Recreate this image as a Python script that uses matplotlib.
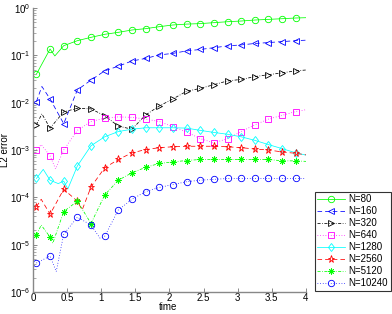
import numpy as np
import matplotlib
matplotlib.use('Agg')
import matplotlib.pyplot as plt
from matplotlib.ticker import FixedLocator, LogLocator, NullFormatter

plt.rcParams['font.family'] = ['Liberation Sans', 'DejaVu Sans']
plt.rcParams['mathtext.fontset'] = 'custom'
plt.rcParams['mathtext.rm'] = 'Liberation Sans'
plt.rcParams['mathtext.default'] = 'regular'

# times at which markers are drawn
marker_t = [0.05, 0.25, 0.45, 0.65, 0.85, 1.05, 1.25, 1.45, 1.65, 1.85,
            2.05, 2.25, 2.45, 2.65, 2.85, 3.05, 3.25, 3.45, 3.65, 3.85]

labels = ['N=80', 'N=160', 'N=320', 'N=640', 'N=1280', 'N=2560', 'N=5120', 'N=10240']

t80 = [0.05, 0.25, 0.32, 0.45, 0.65, 0.85, 1.05, 1.25, 1.45, 1.65, 1.85,
       2.05, 2.25, 2.45, 2.65, 2.85, 3.05, 3.25, 3.45, 3.65, 3.85, 4.0]
e80 = [4.0e-2, 1.36e-1, 9.7e-2, 1.60e-1, 2.04e-1, 2.40e-1, 2.78e-1, 3.06e-1, 3.43e-1, 3.66e-1, 4.03e-1,
       4.38e-1, 4.57e-1, 4.68e-1, 4.90e-1, 5.13e-1, 5.31e-1, 5.57e-1, 5.75e-1, 5.94e-1, 6.15e-1, 6.24e-1]

t160 = [0.05, 0.13, 0.25, 0.45, 0.65, 0.85, 1.05, 1.25, 1.45, 1.65, 1.85,
        2.05, 2.25, 2.45, 2.65, 2.85, 3.05, 3.25, 3.45, 3.65, 3.85, 4.0]
e160 = [1.05e-2, 2.2e-2, 1.2e-2, 3.6e-3, 1.86e-2, 3.0e-2, 4.7e-2, 5.9e-2, 7.6e-2, 8.6e-2, 1.02e-1,
        1.10e-1, 1.24e-1, 1.33e-1, 1.45e-1, 1.58e-1, 1.66e-1, 1.78e-1, 1.86e-1, 1.95e-1, 2.04e-1, 2.09e-1]

t320 = [0.05, 0.13, 0.25, 0.45, 0.65, 0.85, 1.05, 1.25, 1.45, 1.65, 1.85,
        2.05, 2.25, 2.45, 2.65, 2.85, 3.05, 3.25, 3.45, 3.65, 3.85, 4.0]
e320 = [3.4e-3, 5.8e-3, 2.9e-3, 6.4e-3, 7.6e-3, 7.4e-3, 5.3e-3, 3.2e-3, 2.75e-3, 5.5e-3, 8.5e-3,
        1.2e-2, 1.74e-2, 2.0e-2, 2.4e-2, 2.88e-2, 3.1e-2, 3.55e-2, 3.9e-2, 4.27e-2, 4.7e-2, 4.9e-2]

t640 = [0.05, 0.12, 0.25, 0.33, 0.45, 0.65, 0.85, 1.05, 1.25, 1.45, 1.65, 1.85,
        2.05, 2.25, 2.45, 2.65, 2.85, 3.05, 3.25, 3.45, 3.65, 3.85, 4.0]
e640 = [1.0e-3, 1.3e-3, 7.5e-4, 4.0e-4, 1.0e-3, 2.6e-3, 4.0e-3, 4.7e-3, 5.0e-3, 4.9e-3, 4.5e-3, 4.0e-3,
        3.1e-3, 2.4e-3, 1.74e-3, 1.41e-3, 1.74e-3, 2.45e-3, 3.4e-3, 4.5e-3, 5.4e-3, 6.5e-3, 7.1e-3]

t1280 = [0.05, 0.15, 0.25, 0.37, 0.45, 0.51, 0.65, 0.85, 1.05, 1.25, 1.45, 1.65, 1.85,
         2.05, 2.25, 2.45, 2.65, 2.85, 3.05, 3.25, 3.45, 3.65, 3.85, 4.0]
e1280 = [2.5e-4, 3.9e-4, 2.3e-4, 1.95e-4, 2.2e-4, 1.5e-4, 4.6e-4, 1.23e-3, 1.9e-3, 2.45e-3, 2.75e-3, 2.95e-3, 2.95e-3,
         2.95e-3, 2.9e-3, 2.6e-3, 2.35e-3, 2.15e-3, 1.9e-3, 1.6e-3, 1.3e-3, 1.07e-3, 8.7e-4, 7.8e-4]

t2560 = [0.05, 0.12, 0.25, 0.45, 0.65, 0.72, 0.85, 1.05, 1.25, 1.45, 1.65, 1.85,
         2.05, 2.25, 2.45, 2.65, 2.85, 3.05, 3.25, 3.45, 3.65, 3.85, 4.0]
e2560 = [6.3e-5, 9.1e-5, 4.4e-5, 1.48e-4, 8.3e-5, 5.4e-5, 1.66e-4, 4.2e-4, 6.3e-4, 8.7e-4, 1.02e-3, 1.12e-3,
         1.17e-3, 1.2e-3, 1.2e-3, 1.2e-3, 1.17e-3, 1.12e-3, 1.05e-3, 1.0e-3, 9.1e-4, 8.5e-4, 7.9e-4]

t5120 = [0.05, 0.12, 0.25, 0.29, 0.45, 0.65, 0.85, 1.05, 1.25, 1.45, 1.65, 1.85,
         2.05, 2.25, 2.45, 2.65, 2.85, 3.05, 3.25, 3.45, 3.65, 3.85, 4.0]
e5120 = [1.58e-5, 2.6e-5, 1.45e-5, 1.07e-5, 5.0e-5, 8.3e-5, 2.8e-5, 1.12e-4, 2.3e-4, 3.3e-4, 4.3e-4, 5.2e-4,
         5.6e-4, 6.0e-4, 6.3e-4, 6.3e-4, 6.3e-4, 6.3e-4, 6.3e-4, 6.3e-4, 5.9e-4, 5.9e-4, 5.75e-4]

t10240 = [0.05, 0.25, 0.34, 0.45, 0.65, 0.85, 0.98, 1.05, 1.25, 1.45, 1.65, 1.85,
          2.05, 2.25, 2.45, 2.65, 2.85, 3.05, 3.25, 3.45, 3.65, 3.85, 4.0]
e10240 = [4.1e-6, 5.75e-6, 2.7e-6, 1.66e-5, 3.8e-5, 2.6e-5, 1.38e-5, 1.5e-5, 5.4e-5, 9.1e-5, 1.32e-4, 1.62e-4,
          1.86e-4, 2.14e-4, 2.3e-4, 2.4e-4, 2.5e-4, 2.5e-4, 2.5e-4, 2.5e-4, 2.5e-4, 2.5e-4, 2.5e-4]

series = [(t80, e80), (t160, e160), (t320, e320), (t640, e640),
          (t1280, e1280), (t2560, e2560), (t5120, e5120), (t10240, e10240)]
colors = ['#00ff00', '#0000ff', '#000000', '#ff00ff', '#00ffff', '#ff0000', '#00ff00', '#0000ff']
styles = ['-', (0, (6, 4)), (0, (4, 2, 1, 2)), (0, (1, 2.5)), '-', (0, (6, 4)), (0, (4, 2, 1, 2)), (0, (1, 2.5))]
markers = ['o', '<', '>', 's', 'd', '*', (8, 2, 0), 'o']
msizes = [4.6, 4.6, 4.6, 4.0, 4.4, 5.2, 4.4, 4.6]

fig = plt.figure(figsize=(3.92, 3.14), dpi=100)
ax = fig.add_axes([33 / 392, 22 / 314, 273 / 392, 284 / 314])

for (t, e), c, ls, m, ms, lab in zip(series, colors, styles, markers, msizes, labels):
    t = np.asarray(t)
    idx = [i for i, v in enumerate(t) if np.any(np.isclose(v, marker_t))]
    ax.plot(t, e, color=c, linestyle=ls, linewidth=0.55, marker=m, markersize=ms,
            markevery=idx, markerfacecolor='none', markeredgecolor=c,
            markeredgewidth=0.6, label=lab)

ax.set_yscale('log')
ax.set_xlim(0, 4)
ax.set_ylim(1e-6, 1)
ax.xaxis.set_major_locator(FixedLocator([0, 0.5, 1, 1.5, 2, 2.5, 3, 3.5, 4]))
ax.set_xticklabels(['0', '0.5', '1', '1.5', '2', '2.5', '3', '3.5', '4'])
ax.yaxis.set_major_locator(LogLocator(base=10, numticks=10))
ax.yaxis.set_minor_locator(LogLocator(base=10, subs=np.arange(2, 10), numticks=10))
ax.yaxis.set_minor_formatter(NullFormatter())

for side in ['top', 'right']:
    ax.spines[side].set_visible(False)
for side in ['left', 'bottom']:
    ax.spines[side].set_color('#888888')
    ax.spines[side].set_linewidth(1.0)
ax.tick_params(which='both', direction='in', colors='#888888', labelcolor='black',
               labelsize=7, top=False, right=False)
ax.tick_params(which='major', length=3, width=0.7)
ax.tick_params(which='minor', length=1.8, width=0.5)
ax.tick_params(axis='x', pad=1)
ax.tick_params(axis='y', pad=2)

ax.set_xlabel('time', fontsize=7)
ax.set_ylabel('L2 error', fontsize=7)
ax.xaxis.set_label_coords(0.495, -0.036)
ax.yaxis.set_label_coords(-0.085, 0.5)

leg = fig.legend(loc='lower right', bbox_to_anchor=(391 / 392, 23 / 314), fontsize=7,
                 frameon=True, fancybox=False, handlelength=2.8, handletextpad=0.4,
                 labelspacing=0.2, borderpad=0.3, borderaxespad=0)
leg.get_frame().set_edgecolor('black')
leg.get_frame().set_linewidth(0.8)

fig.savefig('out.png', dpi=100)
